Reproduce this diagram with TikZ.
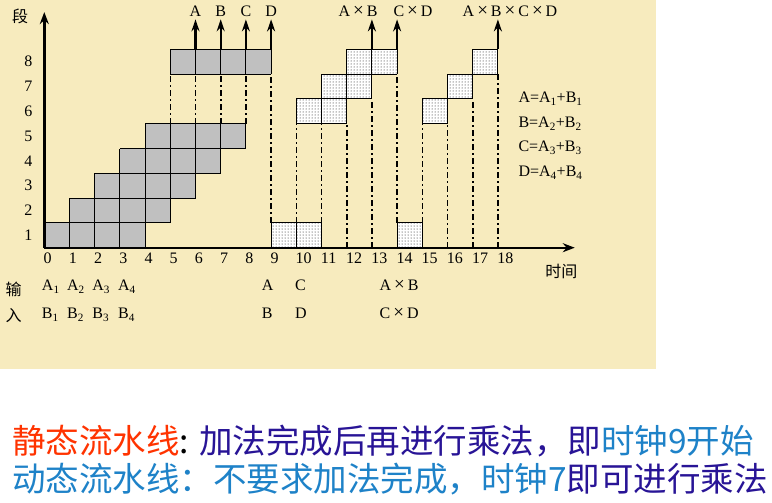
\documentclass[tikz,border=0pt]{standalone}
\usepackage{fontspec}
\setmainfont{Liberation Serif}
\newfontfamily\cjk{Noto Sans CJK SC}
\usetikzlibrary{arrows.meta,patterns}
\definecolor{paper}{RGB}{247,235,190}
\definecolor{cellgray}{RGB}{192,192,192}
\definecolor{hotred}{RGB}{255,51,0}
\definecolor{deepblue}{RGB}{40,20,150}
\definecolor{skyblue}{RGB}{30,130,200}
\newcommand{\crossop}{\kern3pt{\fontsize{19}{19}\selectfont ×}\kern3pt}
\begin{document}
\begin{tikzpicture}[x=25.2pt,y=24.8pt,font=\fontsize{16}{19}\selectfont,
  addcell/.style={fill=cellgray},
  mulcell/.style={fill=white,postaction={pattern=dots,pattern color=black}},
  cellgrid/.style={line width=1pt,step=1},
  guide/.style={line width=1.6pt,dash pattern=on 6pt off 3pt on 2pt off 3pt},
  axis/.style={line width=2.4pt,-{Stealth[length=12pt,width=9pt]}},
  result/.style={line width=2.4pt,shorten >=2.5pt,-{Stealth[length=12pt,width=8pt]}},
  toplabel/.style={inner sep=0pt},
  clk/.style={anchor=west,inner sep=0pt},
  inlabel/.style={anchor=base west,inner sep=0pt},
  note/.style={anchor=west,inner sep=0pt,font=\cjk\fontsize{33.5}{40}\selectfont}]
\useasboundingbox (-1.758,-10.254) rectangle (28.877,9.988);
\fill[paper] (-1.758,9.988) rectangle (24.274,-4.891);
\path[addcell] (0,0) rectangle (4,1); \draw[cellgrid] (0,0) grid (4,1);
\path[addcell] (1,1) rectangle (5,2); \draw[cellgrid] (1,1) grid (5,2);
\path[addcell] (2,2) rectangle (6,3); \draw[cellgrid] (2,2) grid (6,3);
\path[addcell] (3,3) rectangle (7,4); \draw[cellgrid] (3,3) grid (7,4);
\path[addcell] (4,4) rectangle (8,5); \draw[cellgrid] (4,4) grid (8,5);
\path[addcell] (5,7) rectangle (9,8); \draw[cellgrid] (5,7) grid (9,8);
\path[mulcell] (9,0) rectangle (11,1); \draw[cellgrid] (9,0) grid (11,1);
\path[mulcell] (10,5) rectangle (12,6); \draw[cellgrid] (10,5) grid (12,6);
\path[mulcell] (11,6) rectangle (13,7); \draw[cellgrid] (11,6) grid (13,7);
\path[mulcell] (12,7) rectangle (14,8); \draw[cellgrid] (12,7) grid (14,8);
\path[mulcell] (14,0) rectangle (15,1); \draw[cellgrid] (14,0) grid (15,1);
\path[mulcell] (15,5) rectangle (16,6); \draw[cellgrid] (15,5) grid (16,6);
\path[mulcell] (16,6) rectangle (17,7); \draw[cellgrid] (16,6) grid (17,7);
\path[mulcell] (17,7) rectangle (18,8); \draw[cellgrid] (17,7) grid (18,8);
\draw[guide] (5,5) -- (5,7); \draw[guide] (6,5) -- (6,7); \draw[guide] (7,5) -- (7,7); \draw[guide] (8,5) -- (8,7);
\draw[guide] (9,1) -- (9,7); \draw[guide] (10,1) -- (10,5); \draw[guide] (11,1) -- (11,5);
\draw[guide] (12,0) -- (12,5); \draw[guide] (13,0) -- (13,6); \draw[guide] (14,1) -- (14,7);
\draw[guide] (15,1) -- (15,5); \draw[guide] (16,0) -- (16,5); \draw[guide] (17,0) -- (17,6); \draw[guide] (18,0) -- (18,7);
\coordinate (o) at (0,0);
\coordinate (yend) at (0,9.5); \coordinate (xend) at (21.05,0);
\draw[axis] (o) -- (yend); \draw[axis] (o) -- (xend);
\node (seg) at (-0.96,9.34) {\cjk 段}; \node (time) at (20.52,-0.94) {\cjk 时间};
\node (s1) at (-0.635,0.5) {1}; \node (s2) at (-0.635,1.5) {2};
\node (s3) at (-0.635,2.5) {3}; \node (s4) at (-0.635,3.5) {4};
\node (s5) at (-0.635,4.5) {5}; \node (s6) at (-0.635,5.5) {6};
\node (s7) at (-0.635,6.5) {7}; \node (s8) at (-0.635,7.5) {8};
\node[clk] (t0) at (-0.03,-0.43) {0}; \node[clk] (t1) at (0.97,-0.43) {1};
\node[clk] (t2) at (1.97,-0.43) {2}; \node[clk] (t3) at (2.97,-0.43) {3};
\node[clk] (t4) at (3.97,-0.43) {4}; \node[clk] (t5) at (4.97,-0.43) {5};
\node[clk] (t6) at (5.97,-0.43) {6}; \node[clk] (t7) at (6.97,-0.43) {7};
\node[clk] (t8) at (7.97,-0.43) {8}; \node[clk] (t9) at (8.97,-0.43) {9};
\node[clk] (t10) at (9.97,-0.43) {10}; \node[clk] (t11) at (10.97,-0.43) {11};
\node[clk] (t12) at (11.97,-0.43) {12}; \node[clk] (t13) at (12.97,-0.43) {13};
\node[clk] (t14) at (13.97,-0.43) {14}; \node[clk] (t15) at (14.97,-0.43) {15};
\node[clk] (t16) at (15.97,-0.43) {16}; \node[clk] (t17) at (16.97,-0.43) {17};
\node[clk] (t18) at (17.97,-0.43) {18};
\node[toplabel] (labA) at (6,9.53) {A}; \node[toplabel] (labB) at (7,9.53) {B};
\node[toplabel] (labC) at (8,9.53) {C}; \node[toplabel] (labD) at (9,9.53) {D};
\node[toplabel] (labAB) at (12.45,9.53) {A\crossop B}; \node[toplabel] (labCD) at (14.63,9.53) {C\crossop D};
\node[toplabel] (labABCD) at (18.48,9.53) {A\crossop B\crossop C\crossop D};
\coordinate (pA) at (6,8); \coordinate (pB) at (7,8); \coordinate (pC) at (8,8); \coordinate (pD) at (9,8);
\coordinate (pAB) at (13,8); \coordinate (pCD) at (14,8); \coordinate (pABCD) at (18,8);
\draw[result] (pA) -- (labA.south); \draw[result] (pB) -- (labB.south);
\draw[result] (pC) -- (labC.south); \draw[result] (pD) -- (labD.south);
\draw[result] (pAB) -- (pAB |- labA.south); \draw[result] (pCD) -- (pCD |- labA.south);
\draw[result] (pABCD) -- (pABCD |- labA.south);
\node[inlabel] (eqA) at (18.81,5.84) {A=A\textsubscript{1}+B\textsubscript{1}};
\node[inlabel] (eqB) at (18.81,4.85) {B=A\textsubscript{2}+B\textsubscript{2}};
\node[inlabel] (eqC) at (18.81,3.86) {C=A\textsubscript{3}+B\textsubscript{3}};
\node[inlabel] (eqD) at (18.81,2.87) {D=A\textsubscript{4}+B\textsubscript{4}};
\node (in1) at (-1.22,-1.69) {\cjk 输}; \node (in2) at (-1.22,-2.75) {\cjk 入};
\node[inlabel] (a1) at (-0.1,-1.726) {A\textsubscript{1}}; \node[inlabel] (a2) at (0.9,-1.726) {A\textsubscript{2}};
\node[inlabel] (a3) at (1.9,-1.726) {A\textsubscript{3}}; \node[inlabel] (a4) at (2.92,-1.726) {A\textsubscript{4}};
\node[inlabel] (b1) at (-0.1,-2.855) {B\textsubscript{1}}; \node[inlabel] (b2) at (0.9,-2.855) {B\textsubscript{2}};
\node[inlabel] (b3) at (1.9,-2.855) {B\textsubscript{3}}; \node[inlabel] (b4) at (2.92,-2.855) {B\textsubscript{4}};
\node[inlabel] (xA) at (8.63,-1.726) {A}; \node[inlabel] (xC) at (9.95,-1.726) {C};
\node[inlabel] (xAB) at (13.3,-1.726) {A\crossop B};
\node[inlabel] (xB) at (8.63,-2.855) {B}; \node[inlabel] (xD) at (9.95,-2.855) {D};
\node[inlabel] (xCD) at (13.3,-2.855) {C\crossop D};
\node[note] (line1) at (-1.28,-7.79) {{\color{hotred}静态流水线}: {\color{deepblue}加法完成后再进行乘法，即}{\color{skyblue}时钟9开始}};
\node[note] (line2) at (-1.28,-9.33) {{\color{skyblue}动态流水线：不要求加法完成，时钟7}{\color{deepblue}即可进行乘法}};
\end{tikzpicture}
\end{document}
